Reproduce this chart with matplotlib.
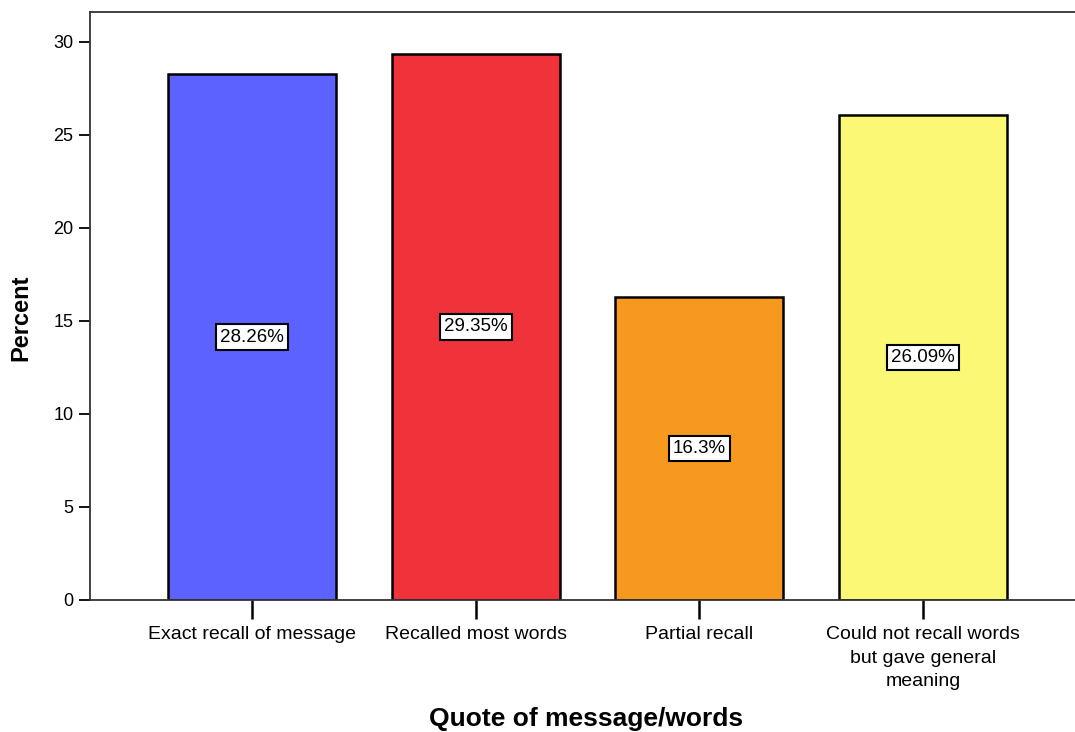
import matplotlib
matplotlib.use("Agg")
import matplotlib.pyplot as plt

categories = ["Exact recall of message", "Recalled most words", "Partial recall",
              "Could not recall words\nbut gave general\nmeaning"]
percents = [28.26, 29.35, 16.3, 26.09]
labels = ["28.26%", "29.35%", "16.3%", "26.09%"]
colors = ["#5C62FF", "#F0323A", "#F7981F", "#FAF874"]

plt.rcParams['font.family'] = ['Liberation Sans', 'DejaVu Sans']

fig = plt.figure(figsize=(10.75, 7.32), dpi=100)
ax = fig.add_axes([90/1075, 132/732, 985/1075, 588/732])

x = range(len(categories))
ax.bar(x, percents, width=0.75, color=colors, edgecolor="black", linewidth=1.8, zorder=2)

for i, (v, t) in enumerate(zip(percents, labels)):
    ax.text(i, v / 2, t, ha="center", va="center", fontsize=13.5, zorder=3,
            bbox=dict(boxstyle="square,pad=0.22", facecolor="white", edgecolor="black", linewidth=1.5))

ax.set_xlim(-0.725, 3.68)
ax.set_ylim(0, 31.6)
ax.set_yticks([0, 5, 10, 15, 20, 25, 30])
ax.set_xticks(list(x))
ax.set_xticklabels(categories, fontsize=14, linespacing=1.5, va="top")

ax.spines["right"].set_visible(False)
for s in ["left", "top", "bottom"]:
    ax.spines[s].set_linewidth(1.3)
    ax.spines[s].set_color("#333333")

ax.tick_params(axis="y", direction="out", length=8, width=1.3, labelsize=13, pad=4)
ax.tick_params(axis="x", direction="out", length=14, width=1.8, pad=5)

ax.set_ylabel("Percent", fontsize=17, fontweight="bold", va="center",
              family=['Liberation Sans Narrow', 'Liberation Sans'])
ax.yaxis.set_label_coords(-69 / 985, (600 - 318) / 588)
ax.set_xlabel("Quote of message/words", fontsize=19, fontweight="bold", va="center")
ax.xaxis.set_label_coords((586 - 90) / 985, (600 - 719) / 588)

fig.savefig("out.png", dpi=100)
